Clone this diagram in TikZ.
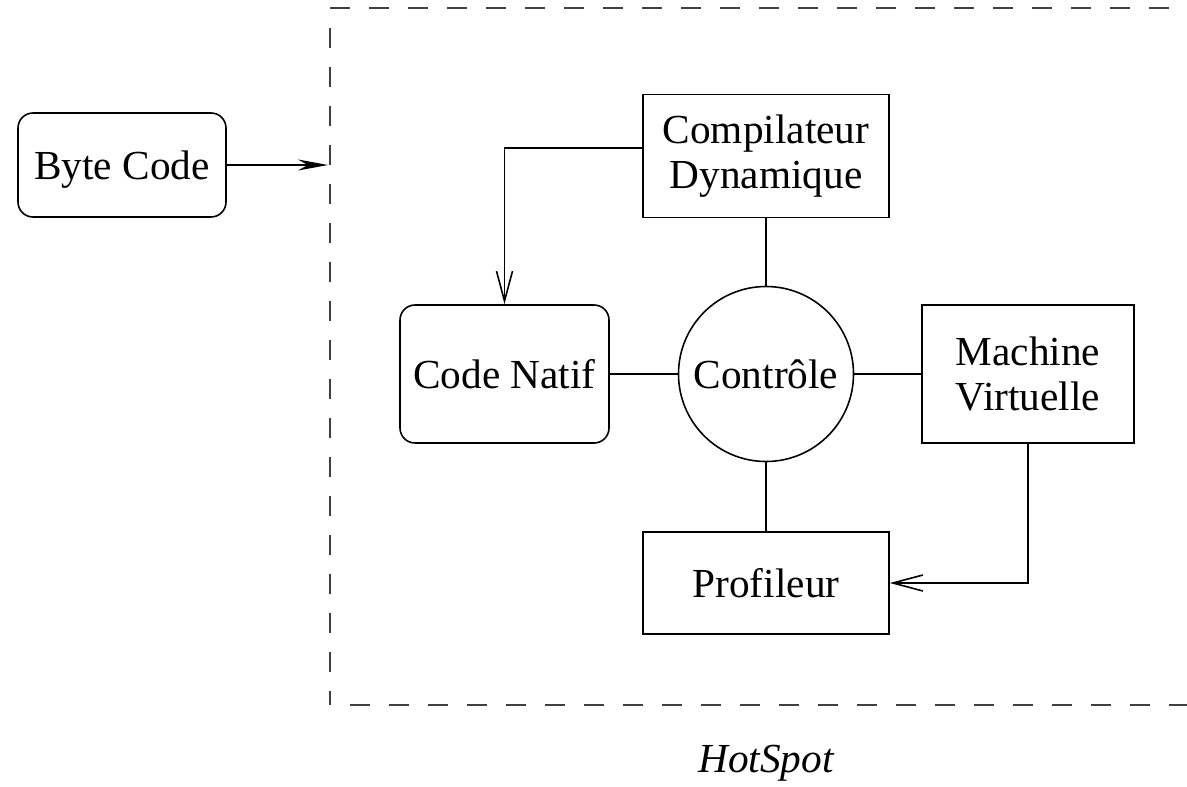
\documentclass[tikz,border=0pt]{standalone}
\usepackage{fontspec}
\setmainfont{Liberation Serif}
\usetikzlibrary{positioning}
\usetikzlibrary{calc}
\usetikzlibrary{arrows.meta}

\begin{document}
\begin{tikzpicture}[
    font=\fontsize{23.5}{26}\selectfont,
    every path/.style={line width=0.9pt},
    box/.style={draw, align=center, inner sep=0pt},
    roundbox/.style={box, rounded corners=0.3cm},
    frame/.style={draw=black!75, dash pattern=on 0.4cm off 0.38cm},
    barb/.style={-{Straight Barb[length=0.6cm, width=0.32cm]}},
  ]
    \useasboundingbox (0,0) rectangle (23.74,15.72);

    \node[roundbox, text depth=0pt, minimum width=4.16cm, minimum height=2.08cm] (bytecode) at (2.44,12.42) {Byte Code};
    \node[box, minimum width=4.92cm, minimum height=2.46cm] (compil) at (15.32,12.6) {Compilateur\\Dynamique};
    \node[draw, circle, minimum size=3.5cm, inner sep=0pt] (ctrl) at (15.32,8.24) {Contrôle};
    \node[roundbox, text depth=0pt, minimum width=4.18cm, minimum height=2.76cm] (natif) at (10.09,8.24) {Code Natif};
    \node[box, minimum width=4.24cm, minimum height=2.76cm] (vm) at (20.56,8.24) {Machine\\Virtuelle};
    \node[box, text depth=0pt, minimum width=4.92cm, minimum height=2.04cm] (prof) at (15.32,4.06) {Profileur};
    \node (hotspot) at (15.32,0.46) {\itshape HotSpot};

    % la zone HotSpot
    \coordinate (tl) at (6.6,15.56);
    \coordinate (bl) at (6.6,1.62);
    \draw[frame] (tl) -- (23.74,15.56);
    \draw[frame] ($(tl)+(0,-0.4)$) -- (bl);
    \draw[frame] ($(bl)+(0.4,0)$) -- (23.74,1.62);

    \coordinate (entry) at (6.56,12.42);
    \draw[-{Stealth[length=0.6cm, width=0.22cm]}] (bytecode.east) -- (entry);

    \draw (compil) -- (ctrl);
    \draw (ctrl) -- (prof);
    \draw (natif) -- (ctrl);
    \draw (ctrl) -- (vm);

    \draw[barb] ($(compil.west)+(0,0.16)$) -| (natif.north);
    \draw[barb] (vm.south) |- (prof.east);
\end{tikzpicture}
\end{document}
